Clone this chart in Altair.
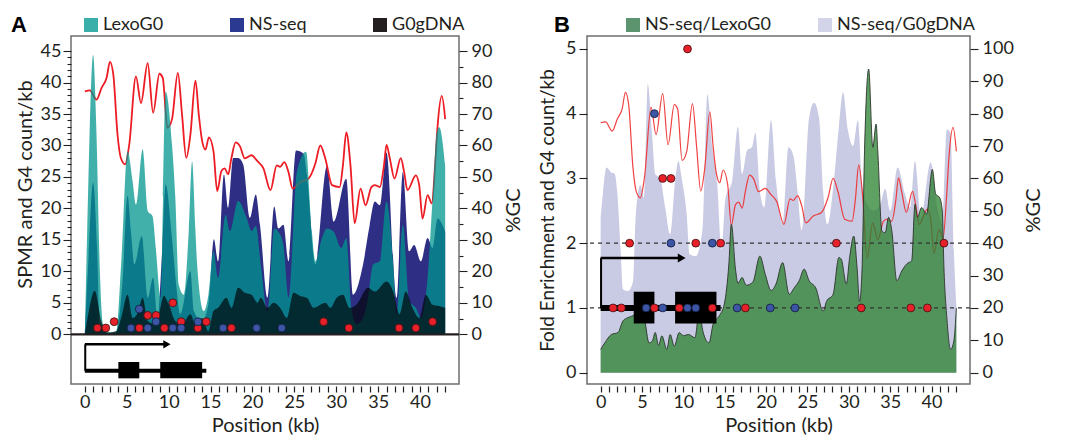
import altair as alt
import pandas as pd

FONT = "Lato"
INK = "#231F20"

# ---------------- data ----------------
# %GC along the locus (same profile in both panels)
gc_kb = [0.0, 0.6, 1.4, 2.0, 2.6, 3.0, 3.4, 3.9, 4.3, 4.8, 5.3, 6.1, 6.7, 7.5, 8.15, 8.9, 9.3,
         9.85, 10.4, 11.1, 11.6, 12.1, 12.6, 13.2, 13.6, 14.0, 14.4, 14.8, 15.35, 15.8, 16.3,
         16.7, 17.1, 17.5, 18.0, 18.5, 19.1, 19.9, 20.6, 21.3, 22.15, 22.9, 23.3, 23.8, 24.3,
         24.8, 25.7, 26.7, 27.5, 28.1, 28.7, 29.5, 30.4, 30.8, 31.2, 31.7, 32.2, 32.9, 33.5,
         34.2, 34.6, 35.2, 35.7, 36.0, 36.4, 36.95, 37.7, 38.1, 38.5, 39.5, 39.9, 40.3, 40.9,
         41.4, 41.8, 42.1, 42.6, 43.0]
gc_val = [77.2, 77.5, 74.6, 78.3, 81.5, 86.6, 82.5, 63.5, 56.0, 54.0, 60.3, 82.0, 73.5, 86.2,
          70.4, 82.8, 81.5, 65.6, 68.3, 83.1, 69.8, 56.1, 63.5, 80.6, 69.8, 61.4, 58.7, 62.6,
          58.2, 45.5, 51.9, 52.7, 50.8, 56.1, 61.0, 59.8, 55.9, 56.9, 55.0, 52.8, 45.8, 53.7,
          53.2, 54.7, 51.6, 46.3, 48.4, 49.5, 54.2, 60.0, 55.8, 47.4, 46.8, 53.7, 64.2, 53.7,
          35.3, 46.3, 41.0, 46.8, 47.4, 46.8, 53.7, 60.2, 55.8, 49.5, 56.0, 51.6, 45.8, 50.5,
          47.4, 36.8, 44.2, 41.6, 53.7, 66.3, 75.8, 68.4]

# Panel A: SPMR tracks
lexo_kb = [0.0, 0.28, 0.99, 1.38, 1.77, 2.17, 2.95, 3.74, 4.33, 5.1, 5.7, 6.1, 6.9, 7.5, 8.07,
           8.46, 9.05, 9.33, 9.64, 10.4, 10.8, 11.2, 11.8, 12.4, 12.8, 13.2, 13.4, 14.2, 14.75,
           15.35, 15.9, 16.8, 17.3, 18.3, 19.3, 19.9, 20.4, 21.0, 21.8, 22.6, 23.1, 23.7, 24.3,
           25.3, 26.4, 27.1, 27.5, 28.3, 28.9, 29.7, 30.6, 31.2, 31.8, 32.4, 33.2, 33.8, 34.4,
           35.2, 36.0, 36.8, 37.2, 37.95, 38.7, 39.5, 40.1, 40.9, 41.5, 42.0, 42.3, 43.0]
lexo_val = [0.0, 16.4, 44.4, 32.3, 11.1, 1.6, 0.3, 0.5, 11.1, 29.1, 24.3, 20.6, 29.4, 19.6, 18.8,
            13.8, 5.8, 21.7, 38.6, 30.2, 21.7, 7.9, 6.3, 16.4, 27.5, 16.4, 11.1, 3.7, 6.3,
            13.2, 9.0, 19.0, 16.4, 21.2, 18.5, 16.4, 17.2, 11.1, 3.7, 16.8, 16.3, 14.2, 5.8,
            25.8, 29.0, 16.3, 11.6, 15.3, 16.8, 16.3, 13.7, 15.3, 4.2, 1.6, 2.6, 5.8, 11.1,
            11.6, 21.1, 11.1, 3.2, 17.4, 5.3, 4.2, 2.6, 9.0, 21.6, 32.1, 32.9, 26.8]

ns_kb = [0.0, 0.4, 0.99, 1.46, 1.77, 2.95, 3.74, 4.5, 5.1, 5.5, 5.9, 6.8, 7.5, 8.15, 8.66, 9.25,
         9.64, 10.4, 10.9, 11.4, 12.6, 13.0, 14.0, 14.75, 15.4, 15.9, 16.6, 17.1, 17.7, 18.3,
         18.9, 19.7, 20.4, 20.9, 21.8, 22.6, 23.1, 23.7, 24.3, 25.2, 26.1, 26.5, 27.5, 28.9,
         29.7, 31.2, 32.0, 33.2, 34.0, 34.6, 35.2, 36.0, 37.2, 37.95, 38.7, 39.3, 40.1, 40.9,
         41.5, 42.1, 43.0]
ns_val = [0.3, 11.1, 24.1, 13.8, 1.6, 0.1, 0.3, 8.5, 22.0, 16.4, 11.1, 15.6, 5.8, 9.0, 2.6, 13.8,
          23.8, 15.3, 7.9, 3.2, 10.0, 3.7, 2.1, 4.8, 15.1, 11.6, 25.4, 20.1, 28.0, 28.0,
          27.0, 18.5, 22.2, 17.4, 5.8, 20.3, 16.8, 17.4, 11.6, 29.2, 28.7, 25.3, 11.1, 26.8,
          17.9, 24.7, 6.3, 11.1, 17.4, 21.1, 20.5, 28.9, 5.8, 25.8, 13.2, 14.2, 11.6, 15.3,
          13.7, 18.4, 16.3]

g0_kb = [0.0, 0.2, 1.18, 1.97, 2.56, 3.74, 4.33, 5.1, 5.7, 6.3, 6.9, 7.5, 8.5, 9.44, 10.0, 10.8,
         11.6, 12.6, 13.2, 14.0, 14.75, 15.35, 15.9, 16.9, 17.5, 18.3, 19.1, 19.9, 20.6, 21.0,
         21.8, 22.55, 23.3, 24.1, 24.9, 25.7, 26.5, 27.3, 28.1, 28.7, 29.3, 30.05, 30.8, 31.6,
         32.4, 33.8, 34.6, 36.0, 36.8, 37.55, 38.3, 39.1, 39.9, 40.7, 41.5, 42.3, 43.0]
g0_val = [0.1, 1.6, 6.9, 2.1, 0.3, 0.5, 2.6, 6.3, 2.6, 3.4, 5.8, 2.1, 1.6, 6.1, 4.8, 2.1,
          1.6, 3.2, 1.6, 2.6, 0.5, 3.7, 4.2, 5.8, 4.2, 7.4, 6.6, 6.3, 5.0, 5.8,
          4.2, 5.0, 4.2, 2.6, 6.6, 6.1, 5.8, 4.2, 4.7, 5.0, 4.2, 5.8, 6.3, 4.2,
          4.7, 7.4, 6.8, 8.4, 6.8, 3.2, 6.8, 4.2, 2.6, 6.3, 4.7, 4.5, 4.2]

# Panel B: fold enrichment
nsl_kb = [0.0, 0.5, 1.3, 2.1, 2.7, 3.3, 3.9, 4.5, 4.9, 5.3, 5.85, 6.25, 6.6, 7.0, 7.4, 8.0, 8.4,
          8.9, 9.5, 10.0, 10.6, 11.4, 11.9, 12.4, 13.1, 13.6, 14.35, 14.95, 15.5, 15.8, 16.3,
          16.6, 17.1, 17.6, 18.4, 19.25, 19.9, 20.6, 21.2, 22.0, 22.8, 23.4, 24.0, 24.6, 25.2,
          26.0, 26.9, 27.3, 28.1, 28.8, 29.1, 29.7, 30.1, 30.6, 31.0, 31.3, 31.6, 31.9, 32.4,
          32.9, 33.3, 33.5, 34.0, 34.4, 34.8, 35.2, 35.8, 36.4, 37.0, 37.6, 38.0, 38.3, 38.8,
          39.4, 40.1, 40.5, 41.0, 41.3, 41.5, 41.85, 42.3, 42.7, 43.0]
nsl_val = [0.36, 0.46, 0.59, 0.62, 0.8, 0.85, 0.88, 0.93, 0.9, 0.82, 0.46, 0.49, 0.62, 0.42, 0.57,
           0.36, 0.59, 0.41, 0.62, 0.57, 0.59, 0.54, 0.93, 0.62, 0.46, 0.75, 0.88, 1.06, 1.68,
           2.29, 1.6, 1.38, 1.47, 1.35, 1.4, 1.8, 1.52, 1.27, 1.37, 1.7, 1.21, 1.31, 1.42, 1.6,
           1.42, 1.31, 0.95, 1.1, 1.21, 1.78, 1.75, 1.37, 1.78, 2.11, 1.62, 1.1, 1.6, 3.43, 4.69,
           3.48, 3.84, 3.43, 2.19, 2.16, 2.4, 2.19, 1.42, 1.57, 1.68, 1.73, 2.6, 2.4, 2.55,
           2.45, 3.14, 2.76, 2.7, 2.5, 1.62, 0.85, 0.36, 0.49, 1.0]

nsg_kb = [0.0, 0.3, 0.7, 1.3, 1.7, 2.0, 2.4, 2.7, 3.3, 3.9, 4.25, 4.8, 5.25, 5.7, 6.2, 6.6, 7.2,
          7.8, 8.4, 9.0, 9.4, 9.8, 10.4, 10.75, 11.5, 12.3, 12.9, 13.5, 14.1, 14.6, 15.1, 15.9,
          16.6, 17.1, 17.7, 18.3, 18.7, 19.25, 19.8, 20.6, 21.2, 22.0, 22.7, 23.3, 23.8, 24.3,
          25.2, 25.8, 26.4, 26.9, 27.4, 28.3, 28.8, 29.3, 29.9, 30.5, 31.1, 31.6, 32.2, 33.0,
          33.8, 34.4, 35.0, 35.9, 36.8, 37.4, 38.0, 38.7, 39.9, 40.7, 41.3, 41.85, 42.3, 42.7,
          43.0]
nsg_val = [2.4, 2.8, 3.17, 3.09, 3.07, 2.8, 1.93, 1.29, 1.26, 1.4, 2.45, 2.9, 2.7, 4.46, 3.7,
           3.07, 3.0, 2.55, 2.14, 2.96, 3.27, 3.0, 2.45, 1.83, 1.8, 2.2, 4.3, 3.48, 2.9, 1.9,
           2.7, 2.96, 3.8, 3.07, 3.43, 3.48, 3.7, 2.8, 2.55, 3.9, 2.96, 2.3, 3.48, 3.35, 2.8,
           2.2, 3.94, 4.17, 3.94, 2.8, 2.29, 3.1, 3.8, 4.33, 3.74, 3.5, 3.9, 2.9, 2.6, 2.5,
           2.6, 2.84, 2.5, 3.17, 2.76, 2.55, 3.27, 2.4, 3.25, 2.55, 2.3, 3.76, 3.7, 1.88, 1.05]

# G4 motif counts per kb (two strands)
red_kb = [1.5, 2.5, 3.5, 6.5, 7.5, 8.5, 9.5, 10.5, 11.5, 13.5, 14.5, 17.5, 28.5, 31.5, 37.5, 39.5, 41.5]
red_cnt = [1, 1, 2, 1, 3, 3, 1, 5, 2, 1, 2, 1, 2, 1, 1, 1, 2]
blue_kb = [5.5, 6.5, 7.5, 8.5, 10.5, 11.5, 13.5, 16.5, 20.5, 23.5]
blue_cnt = [1, 4, 1, 2, 1, 1, 2, 1, 1, 1]

# gene model (kb)
exon_start = [4.0, 9.0]
exon_end = [6.5, 14.0]
gene_span = [0.0, 14.5]
tss_arrow_end = 9.8

legend_A = ["LexoG0", "NS-seq", "G0gDNA"]
legend_A_colors = ["#3AAFA9", "#2B3990", "#231F20"]
legend_B = ["NS-seq/LexoG0", "NS-seq/G0gDNA"]
legend_B_colors = ["#5B946E", "#D3D4EA"]

x_ticks = list(range(0, 44))


def frame(kb, val):
    return pd.DataFrame({"kb": kb, "v": val})


xscale = alt.Scale(domain=[-1.65, 44.65], nice=False, zero=False)
AX_X = alt.Axis(values=x_ticks, labelExpr="datum.value % 5 === 0 ? datum.label : ''",
                labelOverlap=False, title="Position (kb)", tickSize=6, tickWidth=1.2,
                domain=False, offset=2, labelPadding=1, titlePadding=4, labelFlush=False)


def X(field="kb:Q"):
    return alt.X(field, scale=xscale, axis=AX_X)


def Y(field, scale, axis=None):
    return alt.Y(field, scale=scale, axis=axis)


# ---------------- panel A ----------------
yA = alt.Scale(domain=[-7.9, 47.4], nice=False, zero=False)
yA_gc = alt.Scale(domain=[-15.8, 94.8], nice=False, zero=False)

axA_left = alt.Axis(values=list(range(0, 46)),
                    labelExpr="datum.value % 5 === 0 ? datum.label : ''", labelOverlap=False,
                    tickSize={"condition": {"test": "datum.value % 5 === 0", "value": 8}, "value": 4},
                    tickWidth=1.1, domain=False, title="SPMR and G4 count/kb", titlePadding=5,
                    titleY=148, labelPadding=2)
axA_right = alt.Axis(orient="right", values=list(range(0, 91, 5)),
                     labelExpr="datum.value % 10 === 0 ? datum.label : ''", labelOverlap=False,
                     tickSize={"condition": {"test": "datum.value % 10 === 0", "value": 8}, "value": 4},
                     tickWidth=1.1, domain=False, title="%GC", titleAngle=270, titleBaseline="top",
                     titlePadding=12, labelPadding=4)

nsA = alt.Chart(frame(ns_kb, ns_val)).mark_area(color="#2D2E84", interpolate="monotone").encode(
    x=X(), y=Y("v:Q", yA, axA_left), y2=alt.datum(0))
gcA = alt.Chart(frame(gc_kb, gc_val)).mark_line(color="#ED1C24", strokeWidth=1.8,
                                                  interpolate="monotone").encode(
    x=X(), y=Y("v:Q", yA_gc, axA_right))
lexoA = alt.Chart(frame(lexo_kb, lexo_val)).mark_area(color="#00958D", opacity=0.745,
                                                        interpolate="monotone").encode(
    x=X(), y=Y("v:Q", yA), y2=alt.datum(0))
g0A = alt.Chart(frame(g0_kb, g0_val)).mark_area(color="#000000", opacity=0.65,
                                                  interpolate="monotone").encode(
    x=X(), y=Y("v:Q", yA), y2=alt.datum(0))
zeroA = alt.Chart(pd.DataFrame({"v": [0]})).mark_rule(color=INK, strokeWidth=2.2).encode(
    y=Y("v:Q", yA))


def gene_layers(yscale, y_arrow, y_line, y_box_lo, y_box_hi, line_w, arrow_w, head_size):
    ex = pd.DataFrame({"s": exon_start, "e": exon_end, "lo": [y_box_lo] * 2, "hi": [y_box_hi] * 2})
    body = pd.DataFrame({"s": [gene_span[0]], "e": [gene_span[1]], "v": [y_line]})
    tss = pd.DataFrame({"kb": [gene_span[0] + 0.05], "lo": [y_line], "hi": [y_arrow]})
    arrow = pd.DataFrame({"s": [gene_span[0]], "e": [tss_arrow_end], "v": [y_arrow]})
    head = pd.DataFrame({"kb": [tss_arrow_end], "v": [y_arrow]})
    return [
        alt.Chart(body).mark_rule(color="#000", strokeWidth=line_w, strokeCap="butt").encode(
            x=X("s:Q"), x2="e:Q", y=Y("v:Q", yscale)),
        alt.Chart(tss).mark_rule(color="#000", strokeWidth=2).encode(
            x=X(), y=Y("lo:Q", yscale), y2="hi:Q"),
        alt.Chart(arrow).mark_rule(color="#000", strokeWidth=arrow_w).encode(
            x=X("s:Q"), x2="e:Q", y=Y("v:Q", yscale)),
        alt.Chart(head).mark_point(shape="triangle-right", filled=True, color="#000",
                                   size=head_size, opacity=1).encode(x=X(), y=Y("v:Q", yscale)),
        alt.Chart(ex).mark_rect(color="#000").encode(
            x=X("s:Q"), x2="e:Q", y=Y("lo:Q", yscale), y2="hi:Q"),
    ]


def dot_layers(yscale):
    return [
        alt.Chart(frame(red_kb, red_cnt)).mark_circle(size=62, color="#E8202A", stroke="#3a1010",
                                                       strokeWidth=0.8, opacity=1).encode(
            x=X(), y=Y("v:Q", yscale)),
        alt.Chart(frame(blue_kb, blue_cnt)).mark_circle(size=62, color="#3D55A5", stroke="#101a3a",
                                                         strokeWidth=0.8, opacity=1).encode(
            x=X(), y=Y("v:Q", yscale)),
    ]


def legend_layer(letter, names, colors, lx, ly, tpad, cpad):
    return alt.Chart(pd.DataFrame({"series": names})).mark_square(opacity=0, size=1).encode(
        color=alt.Color("series:N", scale=alt.Scale(domain=names, range=colors),
                        legend=alt.Legend(title=letter, titleOrient="left", titleFontSize=22,
                                          titleFont="Liberation Sans", titleFontWeight="bold",
                                          titleColor="#000", titlePadding=tpad,
                                          titleAnchor="middle", titleBaseline="middle",
                                          orient="none", legendX=lx, legendY=ly,
                                          direction="horizontal", columns=len(names),
                                          columnPadding=cpad, symbolType="square", symbolSize=196,
                                          symbolOpacity=1, symbolStrokeWidth=0, labelFontSize=18,
                                          labelFont=FONT, labelColor=INK, labelOffset=3)))


panelA = alt.layer(
    nsA, gcA, lexoA, g0A, zeroA,
    *gene_layers(yA, -1.6, -5.8, -7.0, -4.4, 4, 2.5, 70),
    *dot_layers(yA),
    legend_layer("A", legend_A, legend_A_colors, -60, -20, 55, 64),
).resolve_scale(y="independent", color="independent").properties(width=388, height=348)

# ---------------- panel B ----------------
yB = alt.Scale(domain=[-0.175, 5.2], nice=False, zero=False)
yB_gc = alt.Scale(domain=[-3.5, 104], nice=False, zero=False)

axB_left = alt.Axis(values=[0, 1, 2, 3, 4, 5], tickSize=8, tickWidth=1.1, domain=False,
                    title="Fold Enrichment and G4 count/kb", titleFontSize=19, titlePadding=8,
                    labelPadding=3)
axB_right = alt.Axis(orient="right", values=list(range(0, 101, 10)), tickSize=8, tickWidth=1.1,
                     domain=False, title="%GC", titleAngle=270, titleBaseline="top",
                     titlePadding=10, labelPadding=4)

nsgB = alt.Chart(frame(nsg_kb, nsg_val)).mark_area(color="#C9CAE3", interpolate="monotone").encode(
    x=X(), y=Y("v:Q", yB, axB_left), y2=alt.datum(0))
gcB = alt.Chart(frame(gc_kb, gc_val)).mark_line(color="#EE2D2D", strokeWidth=1.2, opacity=0.9,
                                                  interpolate="monotone").encode(
    x=X(), y=Y("v:Q", yB_gc, axB_right))
nslB = alt.Chart(frame(nsl_kb, nsl_val)).mark_area(
    color="#29802F", opacity=0.75, interpolate="monotone",
    line={"color": "#2b332b", "strokeWidth": 0.9}).encode(
    x=X(), y=Y("v:Q", yB), y2=alt.datum(0))
dashB = alt.Chart(pd.DataFrame({"v": [1, 2]})).mark_rule(color="#333", strokeWidth=1.2,
                                                          strokeDash=[4, 4]).encode(
    y=Y("v:Q", yB))

panelB = alt.layer(
    nsgB, gcB, nslB, dashB,
    *gene_layers(yB, 1.77, 1.0, 0.76, 1.25, 6, 2.5, 80),
    *dot_layers(yB),
    legend_layer("B", legend_B, legend_B_colors, -33, -20, 54, 45),
).resolve_scale(y="independent", color="independent").properties(width=383, height=348)

chart = alt.hconcat(panelA, panelB, spacing=12).resolve_scale(
    x="independent", y="independent", color="independent"
).properties(padding={"left": 2, "top": 7, "right": 4, "bottom": 0}).configure_view(
    stroke="#6d6d6d", strokeWidth=1.5
).configure_axis(
    labelFont=FONT, titleFont=FONT, labelFontSize=18, titleFontSize=20, labelColor=INK,
    titleColor=INK, tickColor=INK, titleFontWeight="normal", grid=False
)

chart.save("out.html", embed_options={"renderer": "svg", "actions": False})
